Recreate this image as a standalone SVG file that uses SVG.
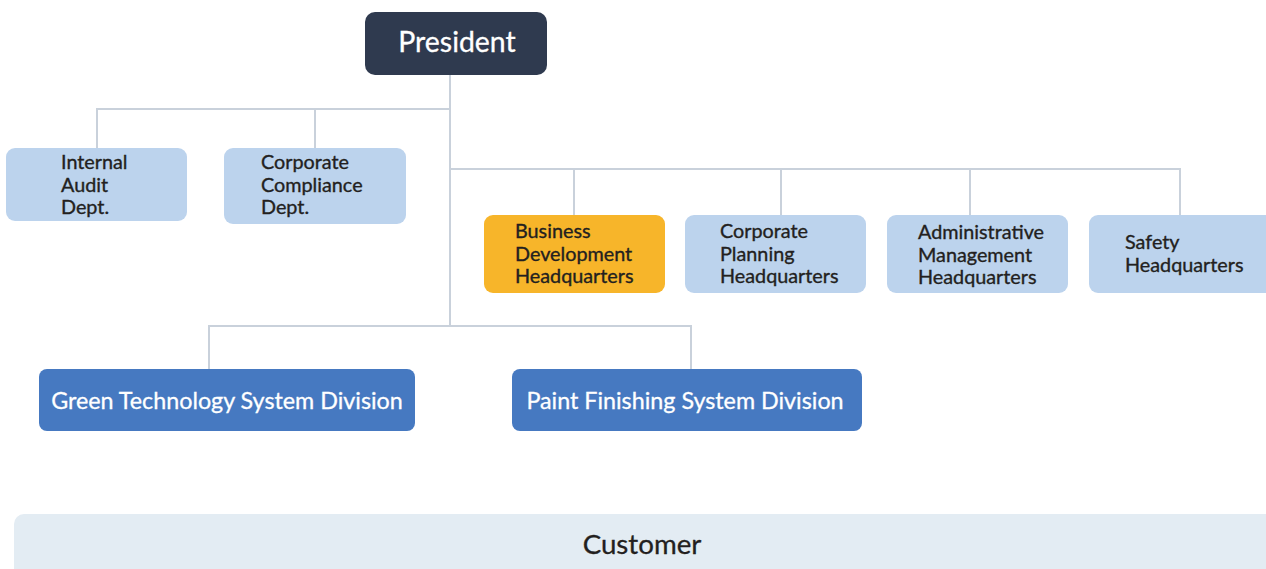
<svg xmlns="http://www.w3.org/2000/svg" width="1266" height="569" viewBox="0 0 1266 569">
<style>
.t{font-family:Lato,"Open Sans","Liberation Sans",sans-serif;}
.lb{fill:#bcd3ed;}
.lt{font-size:19.8px;fill:#231f20;stroke:#231f20;stroke-width:0.35;}
.dv{fill:#4679c1;}
.dt{font-size:23.3px;fill:#ffffff;stroke:#ffffff;stroke-width:0.3;}
.cn{fill:none;stroke:#c9d1db;stroke-width:2;}
</style>
<rect width="1266" height="569" fill="#ffffff"/>
<g id="connectors">
<path class="cn" d="M450 75V326M97 148V109H450M315 148V109M450 169H1180V215M574 169V215M781 169V215M970 169V215M209 369V326H691V369"/>
</g>
<g id="president">
<rect x="365" y="12" width="182" height="63" rx="10" fill="#2f3a4f"/>
<text class="t" x="457" y="52" font-size="28.4" fill="#ffffff" stroke="#ffffff" stroke-width="0.3" text-anchor="middle">President</text>
</g>
<g id="internal-audit">
<rect class="lb" x="6" y="148" width="181" height="73" rx="9"/>
<text class="t lt" x="61" y="169">Internal<tspan x="61" dy="22.5">Audit</tspan><tspan x="61" dy="22.5">Dept.</tspan></text>
</g>
<g id="corporate-compliance">
<rect class="lb" x="224" y="148" width="182" height="76" rx="9"/>
<text class="t lt" x="261" y="169">Corporate<tspan x="261" dy="22.5">Compliance</tspan><tspan x="261" dy="22.5">Dept.</tspan></text>
</g>
<g id="business-development">
<rect x="484" y="215" width="181" height="78" rx="9" fill="#f7b52a"/>
<text class="t lt" x="515" y="238">Business<tspan x="515" dy="22.5">Development</tspan><tspan x="515" dy="22.5">Headquarters</tspan></text>
</g>
<g id="corporate-planning">
<rect class="lb" x="685" y="215" width="181" height="78" rx="9"/>
<text class="t lt" x="720" y="238">Corporate<tspan x="720" dy="22.5">Planning</tspan><tspan x="720" dy="22.5">Headquarters</tspan></text>
</g>
<g id="administrative-management">
<rect class="lb" x="887" y="215" width="181" height="78" rx="9"/>
<text class="t lt" x="918" y="239">Administrative<tspan x="918" dy="22.5">Management</tspan><tspan x="918" dy="22.5">Headquarters</tspan></text>
</g>
<g id="safety">
<rect class="lb" x="1089" y="215" width="190" height="78" rx="9"/>
<text class="t lt" x="1125" y="249">Safety<tspan x="1125" dy="22.5">Headquarters</tspan></text>
</g>
<g id="green-technology">
<rect class="dv" x="39" y="369" width="376" height="62" rx="8"/>
<text class="t dt" x="227" y="409" text-anchor="middle">Green Technology System Division</text>
</g>
<g id="paint-finishing">
<rect class="dv" x="512" y="369" width="350" height="62" rx="8"/>
<text class="t dt" x="685" y="409" text-anchor="middle">Paint Finishing System Division</text>
</g>
<g id="customer">
<rect x="14" y="514" width="1270" height="70" rx="10" fill="#e3ecf3"/>
<text class="t" x="642" y="554" font-size="27.7" fill="#231f20" stroke="#231f20" stroke-width="0.3" text-anchor="middle">Customer</text>
</g>
</svg>
